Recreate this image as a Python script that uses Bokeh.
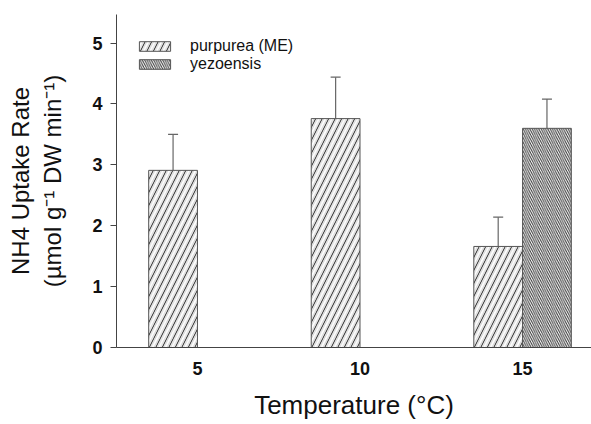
from bokeh.plotting import figure
from bokeh.models import (ColumnDataSource, Whisker, TeeHead, Legend, LegendItem,
                          FixedTicker, Range1d)
from bokeh.embed import file_html
from bokeh.resources import INLINE

# ---- data ----
temps = [5, 10, 15]
purpurea = [2.91, 3.76, 1.66]
purpurea_err = [0.59, 0.68, 0.48]
yez_temps = [15]
yezoensis = [3.60]
yezoensis_err = [0.48]
y_ticks = [0, 1, 2, 3, 4, 5]

FONT = "Liberation Sans"
BW = 1.5

p = figure(width=591, height=424, output_backend="svg", toolbar_location=None,
           x_range=Range1d(2.51, 17.12), y_range=Range1d(0, 5.47),
           min_border_left=116, min_border_right=0, min_border_top=14,
           min_border_bottom=77)
p.outline_line_color = None
p.xgrid.visible = False
p.ygrid.visible = False

src_p = ColumnDataSource(dict(x=[t - BW / 2 for t in temps], top=purpurea,
                              up=[v + e for v, e in zip(purpurea, purpurea_err)]))
src_y = ColumnDataSource(dict(x=[t + BW / 2 for t in yez_temps], top=yezoensis,
                              up=[v + e for v, e in zip(yezoensis, yezoensis_err)]))

r1a = p.vbar(x="x", top="top", width=BW, bottom=0, source=src_p,
             fill_color="white", line_color=None,
             hatch_pattern="/", hatch_scale=6.5, hatch_weight=1, hatch_color="#d0d0d0")
r1 = p.vbar(x="x", top="top", width=BW, bottom=0, source=src_p,
            fill_alpha=0, line_color="#555555", line_width=1,
            hatch_pattern="/", hatch_scale=13, hatch_weight=1, hatch_color="#222222")
r2 = p.vbar(x="x", top="top", width=BW, bottom=0, source=src_y,
            fill_color="white", line_color="#555555", line_width=1,
            hatch_pattern="\\", hatch_scale=4.5, hatch_weight=1, hatch_color="#333333")

for src in (src_p, src_y):
    w = Whisker(base="x", lower="top", upper="up", source=src,
                line_color="#666666", line_width=1.2,
                upper_head=TeeHead(size=10, line_color="#666666", line_width=1.2),
                lower_head=None)
    p.add_layout(w)

legend = Legend(items=[LegendItem(label="purpurea (ME)", renderers=[r1a, r1]),
                       LegendItem(label="yezoensis", renderers=[r2])],
                location=(19, 274), glyph_width=39, glyph_height=12,
                label_text_font=FONT, label_text_font_size="16px",
                label_text_color="#111111", spacing=0, padding=4,
                background_fill_alpha=0, border_line_color=None,
                label_standoff=16, label_height=14)
p.add_layout(legend)

p.yaxis.ticker = FixedTicker(ticks=y_ticks)
p.yaxis.minor_tick_line_color = None
p.yaxis.major_tick_out = 6
p.yaxis.major_tick_in = 0
p.yaxis.axis_line_color = "#444444"
p.yaxis.major_tick_line_color = "#444444"
p.yaxis.major_label_text_font = FONT
p.yaxis.major_label_text_font_style = "bold"
p.yaxis.major_label_text_font_size = "18px"
p.yaxis.major_label_text_color = "#111111"
p.yaxis.major_label_standoff = 8
p.yaxis.axis_label = "NH4 Uptake Rate\n(µmol g⁻¹ DW min⁻¹)"
p.yaxis.axis_label_text_font = FONT
p.yaxis.axis_label_text_font_style = "normal"
p.yaxis.axis_label_text_font_size = "24px"
p.yaxis.axis_label_text_color = "#111111"
p.yaxis.axis_label_standoff = 23

p.xaxis.ticker = FixedTicker(ticks=temps)
p.xaxis.minor_tick_line_color = None
p.xaxis.major_tick_line_color = None
p.xaxis.axis_line_color = "#444444"
p.xaxis.major_label_text_font = FONT
p.xaxis.major_label_text_font_style = "bold"
p.xaxis.major_label_text_font_size = "18px"
p.xaxis.major_label_text_color = "#111111"
p.xaxis.major_label_standoff = 8
p.xaxis.axis_label = "Temperature (°C)"
p.xaxis.axis_label_text_font = FONT
p.xaxis.axis_label_text_font_style = "normal"
p.xaxis.axis_label_text_font_size = "26px"
p.xaxis.axis_label_text_color = "#111111"
p.xaxis.axis_label_standoff = 12

open("out.html", "w").write(file_html(p, INLINE))
